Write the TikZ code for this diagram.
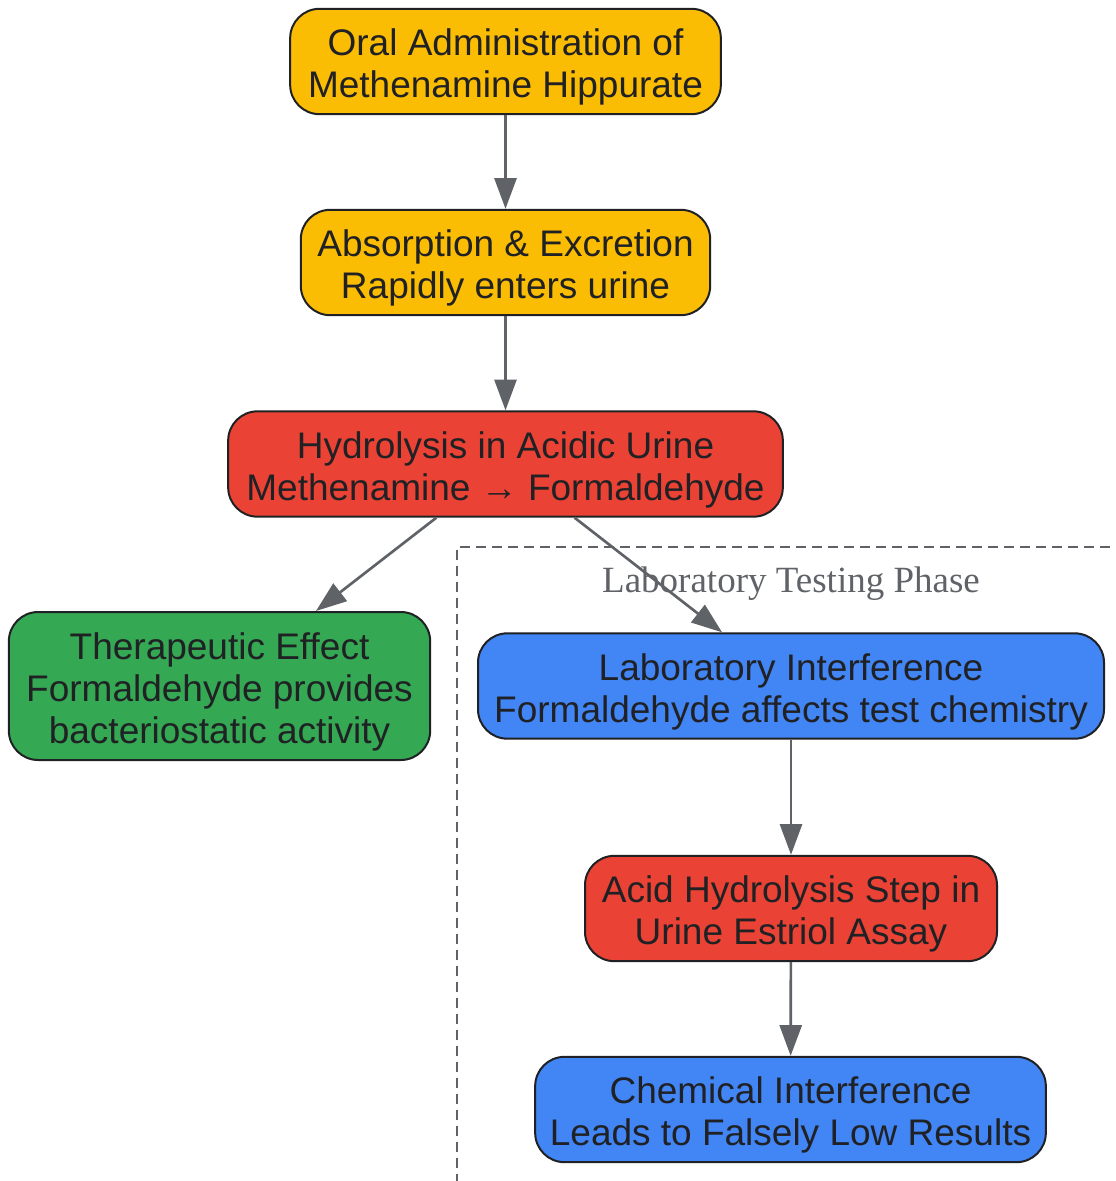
\documentclass[tikz,border=0pt]{standalone}
\usepackage{fontspec}
\setmainfont{Liberation Sans}
\newfontfamily\clusterfont{Liberation Serif}
\usetikzlibrary{arrows.meta}
\definecolor{gyellow}{HTML}{FBBC04}
\definecolor{gred}{HTML}{EA4335}
\definecolor{ggreen}{HTML}{34A853}
\definecolor{gblue}{HTML}{4285F4}
\definecolor{ink}{HTML}{202124}
\definecolor{edgegray}{HTML}{5F6368}
\newcommand{\topstrut}{\rule{0pt}{29.5pt}}
\newcommand{\botstrut}{\rule[-7pt]{0pt}{7pt}}
\tikzset{
  stepbox/.style={draw=ink, line width=1.5pt, rounded corners=22pt, align=center,
    text=ink, font=\fontsize{27.75}{31.5}\selectfont, minimum height=79pt, inner sep=0pt},
  flow/.style={draw=edgegray, line width=2pt, -{Triangle[length=23pt,width=16.5pt]}}
}
\begin{document}
\begin{tikzpicture}[x=0.75pt,y=-0.75pt]
      \useasboundingbox (0,0) rectangle (1115,1181);
      % laboratory cluster
      \begin{scope}
        \clip (0,0) rectangle (1115,1181);
        \draw[edgegray, line width=2pt, dash pattern=on 7.5pt off 4.5pt]
          (457,1200) -- (457,547) -- (1130,547);
      \end{scope}
      \node[text=edgegray, font=\clusterfont\fontsize{27.75}{31.5}\selectfont] (labtitle) at (791,584) {Laboratory Testing Phase};
      \draw
        (505.5,61.5) node[stepbox, fill=gyellow, minimum width=323pt] (oral){\topstrut Oral Administration of\\Methenamine Hippurate\botstrut}
        (505.5,262.5) node[stepbox, fill=gyellow, minimum width=307pt] (absorb){\topstrut Absorption \& Excretion\\Rapidly enters urine\botstrut}
        (505.5,464) node[stepbox, fill=gred, minimum width=416pt] (hydro){\topstrut Hydrolysis in Acidic Urine\\Methenamine → Formaldehyde\botstrut}
        (219.5,686) node[stepbox, fill=ggreen, minimum width=316pt, minimum height=111pt] (thera){\topstrut Therapeutic Effect\\Formaldehyde provides\\bacteriostatic activity\botstrut}
        (791,686) node[stepbox, fill=gblue, minimum width=469.5pt] (labint){\topstrut Laboratory Interference\\Formaldehyde affects test chemistry\botstrut}
        (791,908.5) node[stepbox, fill=gred, minimum width=309pt] (acid){\topstrut Acid Hydrolysis Step in\\Urine Estriol Assay\botstrut}
        (790.5,1109.5) node[stepbox, fill=gblue, minimum width=383pt] (chem){\topstrut Chemical Interference\\Leads to Falsely Low Results\botstrut};
      \begin{scope}[flow]
        \draw (oral) to (absorb);
        \draw (absorb) to (hydro);
        \draw (hydro) to (thera);
        \draw (hydro) to (labint);
        \draw (labint) to (acid);
        \draw (acid) to (chem);
      \end{scope}
    \end{tikzpicture}
\end{document}
